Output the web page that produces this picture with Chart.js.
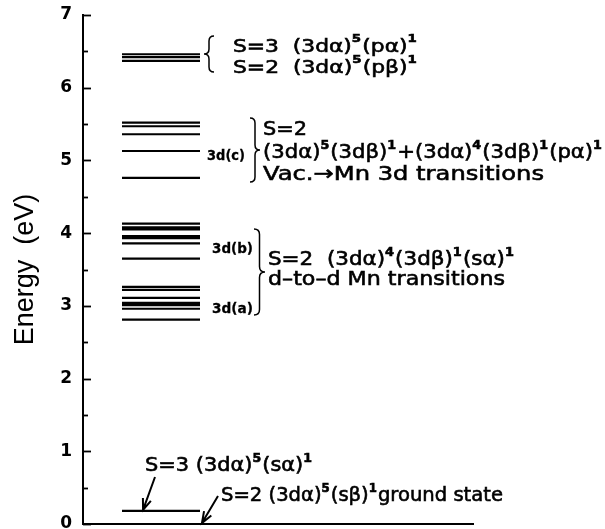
<!DOCTYPE html>
<html>
<head>
<meta charset="utf-8">
<script src="https://cdn.jsdelivr.net/npm/chart.js@4.4.1/dist/chart.umd.min.js"></script>
<style>
  html, body { margin: 0; padding: 0; background: #fff; }
  #wrap { width: 605px; height: 529px; position: relative; }
</style>
</head>
<body>
<div id="wrap"><canvas id="levels"></canvas></div>
<script>
// energy levels (eV)
const levelsP = [6.46, 6.42, 6.37];                       // S=3 / S=2 (3da)5(p)1
const levels3dc = [5.52, 5.47, 5.36, 5.13, 4.76];          // 3d(c)
const levels3db = [4.13, 4.08, 4.05, 3.96, 3.93, 3.86, 3.65]; // 3d(b)
const levels3da = [3.26, 3.22, 3.11, 3.04, 3.01, 2.96, 2.81]; // 3d(a)
const levelsS3 = [0.18];                                   // S=3 (3da)5(sa)1
const groundLevel = [0];                                   // S=2 ground state (x axis)
const yTickValues = [0, 1, 2, 3, 4, 5, 6, 7];

const LEVEL_X = [1, 3];   // horizontal extent of the level bars (x units)
const FONT = '"DejaVu Sans", sans-serif';

function segments(levels) {
  const pts = [];
  levels.forEach(e => {
    pts.push({ x: LEVEL_X[0], y: e }, { x: LEVEL_X[1], y: e }, { x: LEVEL_X[1], y: null });
  });
  return pts;
}

function levelSet(label, levels) {
  return {
    label, data: segments(levels),
    borderColor: '#000', borderWidth: 2.2, pointRadius: 0, spanGaps: false, tension: 0
  };
}

// text helpers -----------------------------------------------------------
function drawRich(ctx, s) {
  const size = s.size, weight = s.weight || 'normal';
  const runs = [];
  for (let i = 0; i < s.text.length; i++) {
    const c = s.text[i];
    if (c === '^') { runs.push({ t: s.text[i + 1], sup: true }); i++; }
    else if (runs.length && !runs[runs.length - 1].sup) runs[runs.length - 1].t += c;
    else runs.push({ t: c, sup: false });
  }
  const supSize = Math.round(size * 0.62);
  const fontOf = r => r.sup ? `bold ${supSize}px ${FONT}` : `${weight} ${size}px ${FONT}`;
  let total = 0;
  runs.forEach(r => { ctx.font = fontOf(r); r.w = ctx.measureText(r.t).width + (r.sup ? 1 : 0); total += r.w; });
  const sx = s.width ? s.width / total : 1;
  ctx.save();
  ctx.translate(s.x, s.y);
  ctx.scale(sx, 1);
  ctx.fillStyle = '#000';
  ctx.strokeStyle = '#000';
  ctx.lineWidth = weight === 'bold' ? 0.3 : 0.6;
  ctx.textBaseline = 'alphabetic';
  ctx.textAlign = 'left';
  let cx = 0;
  runs.forEach(r => {
    ctx.font = fontOf(r);
    const ty = r.sup ? -size * (s.raise || 0.45) : 0;
    ctx.fillText(r.t, cx, ty);
    ctx.strokeText(r.t, cx, ty);
    cx += r.w;
  });
  ctx.restore();
}

function brace(ctx, x0, y1, y2, dir, depth) {
  const mid = (y1 + y2) / 2;
  const xs = x0 + dir * depth * 0.5, xt = x0 + dir * depth;
  const r = depth * 0.5;
  ctx.beginPath();
  ctx.moveTo(x0, y1);
  ctx.quadraticCurveTo(xs, y1, xs, y1 + r);
  ctx.lineTo(xs, mid - r);
  ctx.quadraticCurveTo(xs, mid, xt, mid);
  ctx.quadraticCurveTo(xs, mid, xs, mid + r);
  ctx.lineTo(xs, y2 - r);
  ctx.quadraticCurveTo(xs, y2, x0, y2);
  ctx.stroke();
}

function arrow(ctx, x1, y1, x2, y2) {
  const a = Math.atan2(y2 - y1, x2 - x1), len = 12, spread = 0.36;
  ctx.beginPath();
  ctx.moveTo(x1, y1); ctx.lineTo(x2, y2);
  ctx.moveTo(x2 - len * Math.cos(a - spread), y2 - len * Math.sin(a - spread));
  ctx.lineTo(x2, y2);
  ctx.lineTo(x2 - len * Math.cos(a + spread), y2 - len * Math.sin(a + spread));
  ctx.stroke();
}

const labels = [
  { x: 233, y: 52, text: 'S=3  (3dα)^5(pα)^1', size: 18, width: 185, raise: 0.55 },
  { x: 233, y: 73, text: 'S=2  (3dα)^5(pβ)^1', size: 18, width: 185, raise: 0.55 },
  { x: 207, y: 160, text: '3d(c)', size: 14, weight: 'bold', width: 38 },
  { x: 263, y: 135, text: 'S=2', size: 20, width: 44 },
  { x: 263, y: 158, text: '(3dα)^5(3dβ)^1+(3dα)^4(3dβ)^1(pα)^1', size: 20, width: 340 },
  { x: 263, y: 180, text: 'Vac.→Mn 3d transitions', size: 20, width: 281 },
  { x: 212, y: 253, text: '3d(b)', size: 14, weight: 'bold', width: 41 },
  { x: 212, y: 313, text: '3d(a)', size: 14, weight: 'bold', width: 41 },
  { x: 268, y: 265, text: 'S=2  (3dα)^4(3dβ)^1(sα)^1', size: 20, width: 247 },
  { x: 268, y: 285, text: 'd–to–d Mn transitions', size: 20, width: 237 },
  { x: 145, y: 471, text: 'S=3 (3dα)^5(sα)^1', size: 20, width: 168 },
  { x: 221, y: 501, text: 'S=2 (3dα)^5(sβ)^1ground state', size: 20, width: 282 }
];

const annotate = {
  id: 'annotate',
  afterDraw(chart) {
    const ctx = chart.ctx, ys = chart.scales.y, xs = chart.scales.x;
    const left = chart.chartArea.left;
    ctx.save();
    ctx.strokeStyle = '#000';
    // inward ticks on the energy axis
    ctx.lineWidth = 1.8;
    for (let v = ys.min; v <= ys.max + 1e-9; v += 0.5) {
      const py = Math.round(ys.getPixelForValue(v)) + 0.5;
      const major = Math.abs(v - Math.round(v)) < 1e-9;
      ctx.beginPath();
      ctx.moveTo(left, py);
      ctx.lineTo(left + (major ? 8 : 5), py);
      ctx.stroke();
    }
    ctx.lineWidth = 1.5;
    brace(ctx, 214, 36, 72, -1, 10);
    brace(ctx, 250, 118, 182, 1, 10);
    brace(ctx, 254, 229, 315, 1, 11);
    ctx.lineWidth = 2;
    arrow(ctx, 155, 477, xs.getPixelForValue(1.54), ys.getPixelForValue(levelsS3[0]) - 1);
    arrow(ctx, 218, 496, xs.getPixelForValue(3.05), ys.getPixelForValue(groundLevel[0]) - 1);
    labels.forEach(l => drawRich(ctx, l));
    ctx.restore();
  }
};

new Chart(document.getElementById('levels'), {
  type: 'line',
  data: {
    datasets: [
      levelSet('p', levelsP),
      levelSet('3d(c)', levels3dc),
      levelSet('3d(b)', levels3db),
      levelSet('3d(a)', levels3da),
      levelSet('S=3', levelsS3)
    ]
  },
  options: {
    responsive: true,
    maintainAspectRatio: false,
    animation: false,
    events: [],
    layout: { padding: { top: 15, right: 132, bottom: 5, left: 0 } },
    plugins: { legend: { display: false }, tooltip: { enabled: false } },
    scales: {
      x: {
        type: 'linear', min: 0, max: 10,
        ticks: { display: false },
        grid: { display: false, drawTicks: false },
        border: { display: true, color: '#000', width: 2 }
      },
      y: {
        type: 'linear', min: 0, max: 7,
        afterBuildTicks: s => { s.ticks = yTickValues.map(v => ({ value: v })); },
        afterFit: s => { s.width = 83; s.paddingTop = 0; s.paddingBottom = 0; },
        ticks: { color: '#000', padding: 11, font: { family: FONT, size: 17, weight: 'bold' } },
        grid: { display: false, drawTicks: false },
        border: { display: true, color: '#000', width: 2 },
        title: {
          display: true, text: 'Energy  (eV)', color: '#000',
          padding: { top: 9, bottom: 0 },
          font: { family: '"Liberation Sans", Arial, sans-serif', size: 27 }
        }
      }
    }
  },
  plugins: [annotate]
});
</script>
</body>
</html>
